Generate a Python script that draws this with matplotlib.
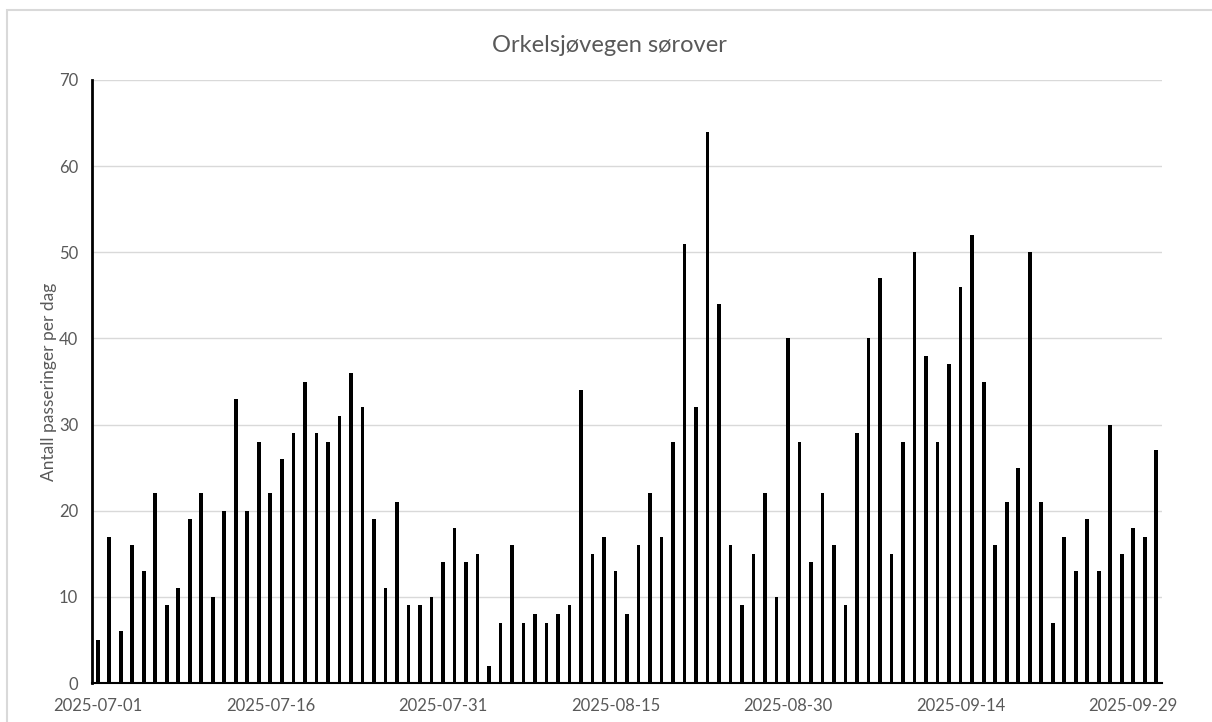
import matplotlib
matplotlib.use("Agg")
import matplotlib.pyplot as plt
import matplotlib.dates as mdates
import pandas as pd
from matplotlib.patches import Rectangle

# Daily passages, Orkelsjøvegen southbound (2025-07-01 .. 2025-10-01)
start_date = "2025-07-01"
july = [5, 17, 6, 16, 13, 22, 9, 11, 19, 22, 10, 20, 33, 20, 28, 22, 26, 29, 35, 29,
        28, 31, 36, 32, 19, 11, 21, 9, 9, 10, 14]
august = [18, 14, 15, 2, 7, 16, 7, 8, 7, 8, 9, 34, 15, 17, 13, 8, 16, 22, 17, 28,
          51, 32, 64, 44, 16, 9, 15, 22, 10, 40, 28]
september = [14, 22, 16, 9, 29, 40, 47, 15, 28, 50, 38, 28, 37, 46, 52, 35, 16, 21, 25, 50,
             21, 7, 17, 13, 19, 13, 30, 15, 18, 17]
october = [27]
values = july + august + september + october
title = "Orkelsjøvegen sørover"
ylabel = "Antall passeringer per dag"
yticks = [0, 10, 20, 30, 40, 50, 60, 70]

dates = pd.date_range(start_date, periods=len(values), freq="D")

plt.rcParams["font.family"] = ["Lato", "DejaVu Sans"]
grey_text = "#595959"

fig = plt.figure(figsize=(12.12, 7.22), dpi=100)
# chart area border (Excel style)
fig.patches.append(Rectangle((7 / 1212, -0.1), 1.2, 1 - 10 / 722 + 0.1, transform=fig.transFigure,
                             fill=False, edgecolor="#d9d9d9", linewidth=1.5))

ax = fig.add_axes([92 / 1212, 1 - 683 / 722, (1162 - 92) / 1212, (683 - 80) / 722])
ax.bar(dates, values, width=0.32, color="black", zorder=3)

ax.set_xlim(dates[0] - pd.Timedelta(hours=12), dates[-1] + pd.Timedelta(hours=12))
ax.set_ylim(0, 70)
ax.set_yticks(yticks)
ax.set_xticks(dates[::15])
ax.xaxis.set_major_formatter(mdates.DateFormatter("%Y-%m-%d"))

ax.grid(axis="y", color="#d9d9d9", linewidth=1, zorder=0)
for side in ["top", "right"]:
    ax.spines[side].set_visible(False)
ax.spines["left"].set_color("black")
ax.spines["left"].set_linewidth(2)
ax.spines["bottom"].set_color("black")
ax.spines["bottom"].set_linewidth(1.5)
ax.spines["left"].set_zorder(4)
ax.spines["bottom"].set_zorder(4)

ax.tick_params(axis="both", length=0, labelsize=12, labelcolor=grey_text)
ax.tick_params(axis="y", pad=10)
ax.tick_params(axis="x", pad=11)

ax.set_ylabel(ylabel, fontsize=12.5, color=grey_text, labelpad=1)
fig.text(0.503, 1 - 45 / 722, title, ha="center", va="center", fontsize=17, color=grey_text)

fig.savefig("out.png", dpi=100)
